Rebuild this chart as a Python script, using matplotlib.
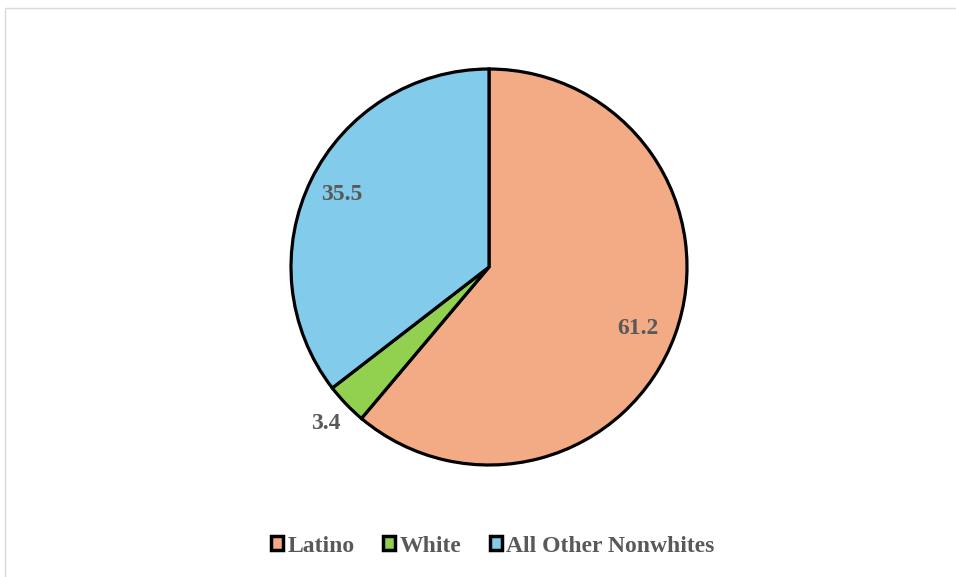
import matplotlib
matplotlib.use("Agg")
import matplotlib.pyplot as plt
from matplotlib.patches import Patch, Rectangle
import numpy as np

categories = ["Latino", "White", "All Other Nonwhites"]
values = [61.2, 3.4, 35.5]
colors = ["#F2AB85", "#92D050", "#83CBEB"]
label_dist = [0.815, 1.14, 0.83]
label_angle_offset = [-2.4, 0.0, 0.0]

W, H = 956, 577
fig = plt.figure(figsize=(W / 100, H / 100), dpi=100)
fig.patch.set_facecolor("white")

# chart-area border
fig.patches.append(Rectangle((5 / W, -0.05), 1.1, 1 - 8 / H + 0.05, transform=fig.transFigure,
                             fill=False, edgecolor="#D9D9D9", linewidth=1.0))

ax = fig.add_axes([0, 0, 1, 1])
ax.set_xlim(0, W)
ax.set_ylim(0, H)
ax.set_aspect("equal")
ax.axis("off")

cx, cy, r = 489, H - 267, 198
wedges, _ = ax.pie(values, colors=colors, startangle=90, counterclock=False,
                   center=(cx, cy), radius=r, normalize=True,
                   wedgeprops=dict(edgecolor="black", linewidth=2.3))
ax.set_xlim(0, W)
ax.set_ylim(0, H)

txtstyle = dict(family="Liberation Serif", fontweight="bold", fontsize=17, color="#595959",
                ha="center", va="center")
for w, v, d, off in zip(wedges, values, label_dist, label_angle_offset):
    ang = np.deg2rad((w.theta1 + w.theta2) / 2 + off)
    ax.text(cx + d * r * np.cos(ang), cy + d * r * np.sin(ang), f"{v:.1f}", **txtstyle)

handles = [Patch(facecolor=c, edgecolor="black", linewidth=2.5) for c in colors]
leg = fig.legend(handles, categories, loc="center", bbox_to_anchor=(493 / W, 1 - 546 / H), ncol=3,
                 frameon=False, handlelength=0.5, handleheight=0.5, handletextpad=0.2,
                 columnspacing=1.2,
                 prop=dict(family="Liberation Serif", weight="bold", size=17))
for t in leg.get_texts():
    t.set_color("#595959")

fig.savefig("out.png", dpi=100)
